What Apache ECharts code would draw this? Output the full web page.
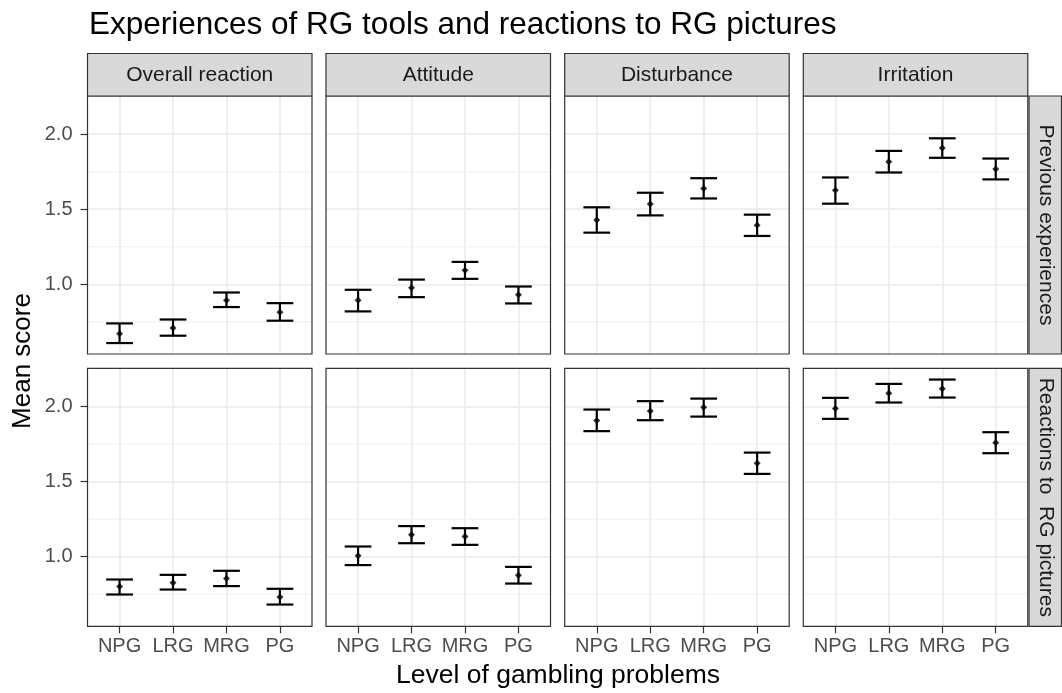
<!DOCTYPE html>
<html>
<head>
<meta charset="utf-8">
<title>Experiences of RG tools and reactions to RG pictures</title>
<script src="https://cdn.jsdelivr.net/npm/echarts@6/dist/echarts.min.js"></script>
<style>
	html, body { margin: 0; padding: 0; background: #fff; }
	#chart1 { width: 1062px; height: 693px; }
</style>
</head>
<body>
<div id="chart1"></div>
<script>
// gambling problem levels (x categories)
var levels = ['NPG', 'LRG', 'MRG', 'PG'];
// facet columns / rows
var measures = ['Overall reaction', 'Attitude', 'Disturbance', 'Irritation'];
var contexts = ['Previous experiences', 'Reactions to  RG pictures'];
var yTicks = [1.0, 1.5, 2.0];
var yMinor = [0.75, 1.25, 1.75];

// Previous experiences: mean and interval ends, one row per measure
var prevMean = [[0.670, 0.708, 0.894, 0.814], [0.894, 0.976, 1.094, 0.930], [1.428, 1.535, 1.639, 1.393], [1.626, 1.816, 1.909, 1.769]];
var prevLow = [[0.608, 0.657, 0.848, 0.757], [0.819, 0.914, 1.036, 0.872], [1.344, 1.459, 1.572, 1.322], [1.537, 1.745, 1.843, 1.699]];
var prevHigh = [[0.739, 0.765, 0.945, 0.874], [0.963, 1.031, 1.149, 0.985], [1.513, 1.610, 1.707, 1.464], [1.712, 1.889, 1.973, 1.838]];

// Reactions to RG pictures
var picMean = [[0.800, 0.825, 0.853, 0.731], [1.005, 1.145, 1.133, 0.876], [1.907, 1.971, 1.996, 1.622], [1.987, 2.089, 2.118, 1.758]];
var picLow = [[0.747, 0.780, 0.803, 0.680], [0.943, 1.089, 1.078, 0.820], [1.836, 1.909, 1.933, 1.551], [1.918, 2.027, 2.060, 1.689]];
var picHigh = [[0.847, 0.878, 0.905, 0.785], [1.067, 1.203, 1.189, 0.931], [1.980, 2.036, 2.053, 1.693], [2.058, 2.151, 2.180, 1.829]];

var FONT = '"Liberation Sans", Arial, sans-serif';
var colLeft = [87.5, 326, 564.7, 803.3];
var panelW = 224.5;
var rowTop = [96, 368.3];
var panelH = 258;
var yMin = 0.535, yMax = 2.255;
var capHalf = 0.25;

(function() {
	var grids = [], xAxes = [], yAxes = [], series = [], graphics = [];
	var means = [prevMean, picMean], lows = [prevLow, picLow], highs = [prevHigh, picHigh];

	for(var r = 0; r < 2; r++) {
		for(var c = 0; c < 4; c++) {
			var idx = r * 4 + c;
			grids.push({
				left: colLeft[c],
				top: rowTop[r],
				width: panelW,
				height: panelH,
				show: true,
				backgroundColor: '#fff',
				borderWidth: 0
			});
			xAxes.push({
				gridIndex: idx,
				type: 'value',
				min: 0.4,
				max: 4.6,
				axisLine: { show: false },
				axisTick: {
					show: r === 1,
					customValues: [1, 2, 3, 4],
					length: 7,
					lineStyle: { color: '#333', width: 1.2 }
				},
				axisLabel: {
					show: r === 1,
					customValues: [1, 2, 3, 4],
					formatter: function(v) {
						return levels[Math.round(v) - 1];
					},
					fontSize: 20,
					fontFamily: FONT,
					color: '#4d4d4d',
					margin: 10
				},
				splitLine: { show: true, lineStyle: { color: '#ebebeb', width: 1.6 } }
			});
			yAxes.push({
				gridIndex: idx,
				type: 'value',
				min: yMin,
				max: yMax,
				axisLine: { show: false },
				axisTick: {
					show: c === 0,
					customValues: yTicks,
					length: 7,
					lineStyle: { color: '#333', width: 1.2 }
				},
				axisLabel: {
					show: c === 0,
					customValues: yTicks,
					formatter: function(v) {
						return v.toFixed(1);
					},
					fontSize: 20,
					fontFamily: FONT,
					color: '#4d4d4d',
					margin: 15
				},
				splitLine: { show: true, lineStyle: { color: '#ebebeb', width: 1.6 } }
			});

			// minor horizontal grid lines
			series.push({
				type: 'custom',
				xAxisIndex: idx,
				yAxisIndex: idx,
				silent: true,
				z: 1,
				data: yMinor.map(function(v) { return [1, v]; }),
				renderItem: function(params, api) {
					var p = api.coord([1, api.value(1)]);
					var cs = params.coordSys;
					return {
						type: 'line',
						shape: { x1: cs.x, y1: p[1], x2: cs.x + cs.width, y2: p[1] },
						style: { stroke: '#efefef', lineWidth: 1 }
					};
				}
			});

			var barData = [], pointData = [];
			for(var k = 0; k < levels.length; k++) {
				barData.push([k + 1, lows[r][c][k], highs[r][c][k]]);
				pointData.push([k + 1, means[r][c][k]]);
			}
			// error bars
			series.push({
				type: 'custom',
				xAxisIndex: idx,
				yAxisIndex: idx,
				z: 3,
				data: barData,
				encode: { x: 0, y: [1, 2] },
				renderItem: function(params, api) {
					var x = api.value(0);
					var lo = api.coord([x, api.value(1)]);
					var hi = api.coord([x, api.value(2)]);
					var loL = api.coord([x - capHalf, api.value(1)]);
					var loR = api.coord([x + capHalf, api.value(1)]);
					var hiL = api.coord([x - capHalf, api.value(2)]);
					var hiR = api.coord([x + capHalf, api.value(2)]);
					var st = { stroke: '#000', lineWidth: 2.2 };
					return {
						type: 'group',
						children: [
							{ type: 'line', shape: { x1: lo[0], y1: lo[1], x2: hi[0], y2: hi[1] }, style: st },
							{ type: 'line', shape: { x1: loL[0], y1: loL[1], x2: loR[0], y2: loR[1] }, style: st },
							{ type: 'line', shape: { x1: hiL[0], y1: hiL[1], x2: hiR[0], y2: hiR[1] }, style: st }
						]
					};
				}
			});
			// means
			series.push({
				type: 'scatter',
				xAxisIndex: idx,
				yAxisIndex: idx,
				z: 4,
				symbol: 'diamond',
				symbolSize: 7,
				itemStyle: { color: '#000' },
				data: pointData
			});

			// panel border
			graphics.push({
				type: 'rect',
				z: 100,
				silent: true,
				shape: { x: colLeft[c], y: rowTop[r], width: panelW, height: panelH },
				style: { fill: null, stroke: '#333', lineWidth: 1.2 }
			});
		}
	}

	// column strips
	for(var a = 0; a < measures.length; a++) {
		graphics.push({
			type: 'rect',
			z: 100,
			shape: { x: colLeft[a], y: 53.5, width: panelW, height: 42.5 },
			style: { fill: '#d9d9d9', stroke: '#333', lineWidth: 1.2 }
		});
		graphics.push({
			type: 'text',
			z: 101,
			x: colLeft[a] + panelW / 2,
			y: 53.5 + 21.5,
			style: {
				text: measures[a],
				fontSize: 21,
				fontFamily: FONT,
				fill: '#1a1a1a',
				align: 'center',
				verticalAlign: 'middle'
			}
		});
	}
	// row strips
	for(var b = 0; b < contexts.length; b++) {
		graphics.push({
			type: 'rect',
			z: 100,
			shape: { x: 1029, y: rowTop[b], width: 32.5, height: panelH },
			style: { fill: '#d9d9d9', stroke: '#333', lineWidth: 1.2 }
		});
		graphics.push({
			type: 'text',
			z: 101,
			x: 1029 + 16.5,
			y: rowTop[b] + panelH / 2,
			rotation: -Math.PI / 2,
			style: {
				text: contexts[b],
				fontSize: 21,
				fontFamily: FONT,
				fill: '#1a1a1a',
				align: 'center',
				verticalAlign: 'middle'
			}
		});
	}
	// axis titles
	graphics.push({
		type: 'text',
		x: 558,
		y: 676,
		style: {
			text: 'Level of gambling problems',
			fontSize: 26.5,
			fontFamily: FONT,
			fill: '#000',
			align: 'center',
			verticalAlign: 'middle'
		}
	});
	graphics.push({
		type: 'text',
		x: 23,
		y: 361,
		rotation: Math.PI / 2,
		style: {
			text: 'Mean score',
			fontSize: 26,
			fontFamily: FONT,
			fill: '#000',
			align: 'center',
			verticalAlign: 'middle'
		}
	});

	var option = {
		animation: false,
		backgroundColor: '#fff',
		title: {
			text: 'Experiences of RG tools and reactions to RG pictures',
			left: 84,
			top: 4,
			textStyle: { fontSize: 31.5, fontWeight: 'normal', fontFamily: FONT, color: '#000' }
		},
		grid: grids,
		xAxis: xAxes,
		yAxis: yAxes,
		series: series,
		graphic: graphics
	};

	var myChart = echarts.init(document.getElementById('chart1'));
	myChart.setOption(option);
})();
</script>
</body>
</html>
